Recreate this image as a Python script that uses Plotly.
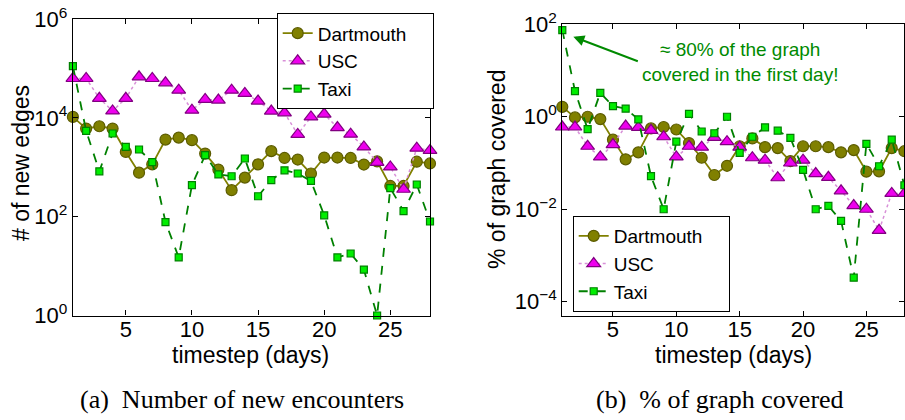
import plotly.graph_objects as go

days = list(range(1, 29))

# (a) number of new edges
dart_a = [10500, 6100, 6800, 6100, 2050, 780, 1150, 3650, 4000, 3550, 1900, 900, 345, 620,
          1150, 2130, 1550, 1440, 750, 1580, 1580, 1550, 1140, 1320, 420, 420, 1300, 1200]
usc_a = [63000, 63000, 25000, 13900, 25000, 68000, 63000, 51500, 36600, 14400, 23800, 23000, 36600, 31500,
         22000, 13800, 12700, 4650, 10500, 12000, 6400, 4700, 2590, 1260, 1020, 360, 2450, 2200]
taxi_a = [112000, 5500, 830, 4850, 2600, 2300, 1280, 78, 15, 435, 1770, 720, 660, 1510,
          260, 550, 870, 750, 530, 107, 15, 18, 8.5, 1, 380, 130, 450, 80]

# (b) % of graph covered
dart_b = [1.64, 0.97, 1.0, 0.89, 0.32, 0.12, 0.17, 0.56, 0.60, 0.53, 0.27, 0.13, 0.055, 0.087,
          0.23, 0.34, 0.22, 0.21, 0.11, 0.23, 0.23, 0.22, 0.17, 0.19, 0.065, 0.066, 0.21, 0.18]
usc_b = [0.60, 0.60, 0.23, 0.135, 0.25, 0.63, 0.59, 0.51, 0.37, 0.135, 0.23, 0.22, 0.36, 0.29,
         0.22, 0.13, 0.115, 0.048, 0.10, 0.115, 0.059, 0.049, 0.025, 0.012, 0.010, 0.0035, 0.022, 0.022]
taxi_b = [75, 3.6, 0.54, 3.3, 1.7, 1.5, 0.88, 0.052, 0.010, 0.29, 1.15, 0.48, 0.44, 1.0,
          0.166, 0.37, 0.59, 0.50, 0.35, 0.071, 0.010, 0.0118, 0.0056, 0.00033, 0.26, 0.085, 0.32, 0.033]

left_ticks = [0, 2, 4, 6]
right_ticks = [-4, -2, 0, 2]
x_ticks = [5, 10, 15, 20, 25]
series_names = ["Dartmouth", "USC", "Taxi"]

FONT = "Liberation Sans, Arial, sans-serif"
SERIF = "Liberation Serif, Times New Roman, serif"
W, H = 905, 420
PAD = "\u00a0\u00a0\u00a0\u00a0"

styles = {
    "Dartmouth": dict(line=dict(color="#808000", width=1.8, dash="solid"),
                      marker=dict(symbol="circle", size=11, color="#808000",
                                  line=dict(color="#5c5c00", width=1.2))),
    "USC": dict(line=dict(color="#d890d8", width=1.5, dash="dot"),
                marker=dict(symbol="triangle-up", size=12, color="#ee00ee",
                            line=dict(color="#800080", width=1.2))),
    "Taxi": dict(line=dict(color="#008000", width=1.8, dash="dash"),
                 marker=dict(symbol="square", size=7, color="#00ee00",
                             line=dict(color="#008000", width=1.2))),
}

fig = go.Figure()
for name, ys in zip(series_names, [dart_a, usc_a, taxi_a]):
    fig.add_trace(go.Scatter(x=days, y=ys, name=name + (PAD if name == "Dartmouth" else ""),
                             mode="lines+markers",
                             xaxis="x", yaxis="y", legend="legend", cliponaxis=False,
                             **styles[name]))
for name, ys in zip(series_names, [dart_b, usc_b, taxi_b]):
    fig.add_trace(go.Scatter(x=days, y=ys, name=name + (PAD if name == "Dartmouth" else ""),
                             mode="lines+markers",
                             xaxis="x2", yaxis="y2", legend="legend2", cliponaxis=False,
                             **styles[name]))

axis_common = dict(showline=True, linecolor="black", linewidth=1.2, mirror="ticks",
                   ticks="inside", ticklen=5, tickcolor="black", showgrid=False, zeroline=False,
                   automargin=False,
                   tickfont=dict(family=FONT, size=22, color="black"))

fig.update_layout(
    width=W, height=H,
    margin=dict(l=0, r=0, t=0, b=0, autoexpand=False),
    paper_bgcolor="white", plot_bgcolor="white",
    font=dict(family=FONT, color="black"),
    xaxis=dict(domain=[72.9 / W, 430 / W], range=[1, 28], tickvals=x_ticks, anchor="y",
               ticklabelstandoff=-6, **axis_common),
    yaxis=dict(domain=[(H - 315.5) / H, (H - 19.2) / H], type="log", range=[0, 6], anchor="x",
               tickvals=[10 ** t for t in left_ticks],
               ticktext=["10<sup>%d</sup>" % t for t in left_ticks],
               **axis_common),
    xaxis2=dict(domain=[562.3 / W, 904.4 / W], range=[1, 28], tickvals=x_ticks, anchor="y2",
                ticklabelstandoff=-6, **axis_common),
    yaxis2=dict(domain=[(H - 315.7) / H, (H - 24.3) / H], type="log", range=[-4.303, 2], anchor="x2",
                tickvals=[10 ** t for t in right_ticks],
                ticktext=["10<sup>%s</sup>" % ("−%d" % -t if t < 0 else "%d" % t) for t in right_ticks],
                **axis_common),
    legend=dict(x=276.7 / W, y=(H - 13.3) / H, xanchor="left", yanchor="top",
                bordercolor="black", borderwidth=1, bgcolor="white",
                font=dict(family=FONT, size=19), tracegroupgap=0),
    legend2=dict(x=572.7 / W, y=(H - 216) / H, xanchor="left", yanchor="top",
                 bordercolor="black", borderwidth=1, bgcolor="white",
                 font=dict(family=FONT, size=19), tracegroupgap=0),
    showlegend=True,
)

# axis titles
fig.add_annotation(x=251 / W, y=(H - 355) / H, xref="paper", yref="paper",
                   xanchor="center", yanchor="middle", showarrow=False,
                   text="timestep (days)", font=dict(family=FONT, size=23, color="black"))
fig.add_annotation(x=733 / W, y=(H - 355) / H, xref="paper", yref="paper",
                   xanchor="center", yanchor="middle", showarrow=False,
                   text="timestep (days)", font=dict(family=FONT, size=23, color="black"))
fig.add_annotation(x=21 / W, y=(H - 163) / H, xref="paper", yref="paper",
                   xanchor="center", yanchor="middle", showarrow=False, textangle=-90,
                   text="# of new edges", font=dict(family=FONT, size=23, color="black"))
fig.add_annotation(x=497 / W, y=(H - 170) / H, xref="paper", yref="paper",
                   xanchor="center", yanchor="middle", showarrow=False, textangle=-90,
                   text="% of graph covered", font=dict(family=FONT, size=23, color="black"))

# call-out
fig.add_annotation(x=15.03, y=1.184, xref="x2", yref="y2", xanchor="center", yanchor="middle",
                   text="≈ 80% of the graph<br>covered in the first day!",
                   showarrow=False, font=dict(family=FONT, size=19, color="#008a00"),
                   align="center")
fig.add_annotation(x=1.87, y=1.73, xref="x2", yref="y2",
                   text="", showarrow=True, arrowhead=2, arrowsize=1.1, arrowwidth=2,
                   arrowcolor="#008a00", ax=66, ay=25, standoff=0)

# captions
fig.add_annotation(x=242 / W, y=(H - 399) / H, xref="paper", yref="paper",
                   xanchor="center", yanchor="middle",
                   text="(a)  Number of new encounters", showarrow=False,
                   font=dict(family=SERIF, size=26, color="black"))
fig.add_annotation(x=720 / W, y=(H - 399) / H, xref="paper", yref="paper",
                   xanchor="center", yanchor="middle",
                   text="(b)  % of graph covered", showarrow=False,
                   font=dict(family=SERIF, size=26, color="black"))

fig.write_html("out.html")
